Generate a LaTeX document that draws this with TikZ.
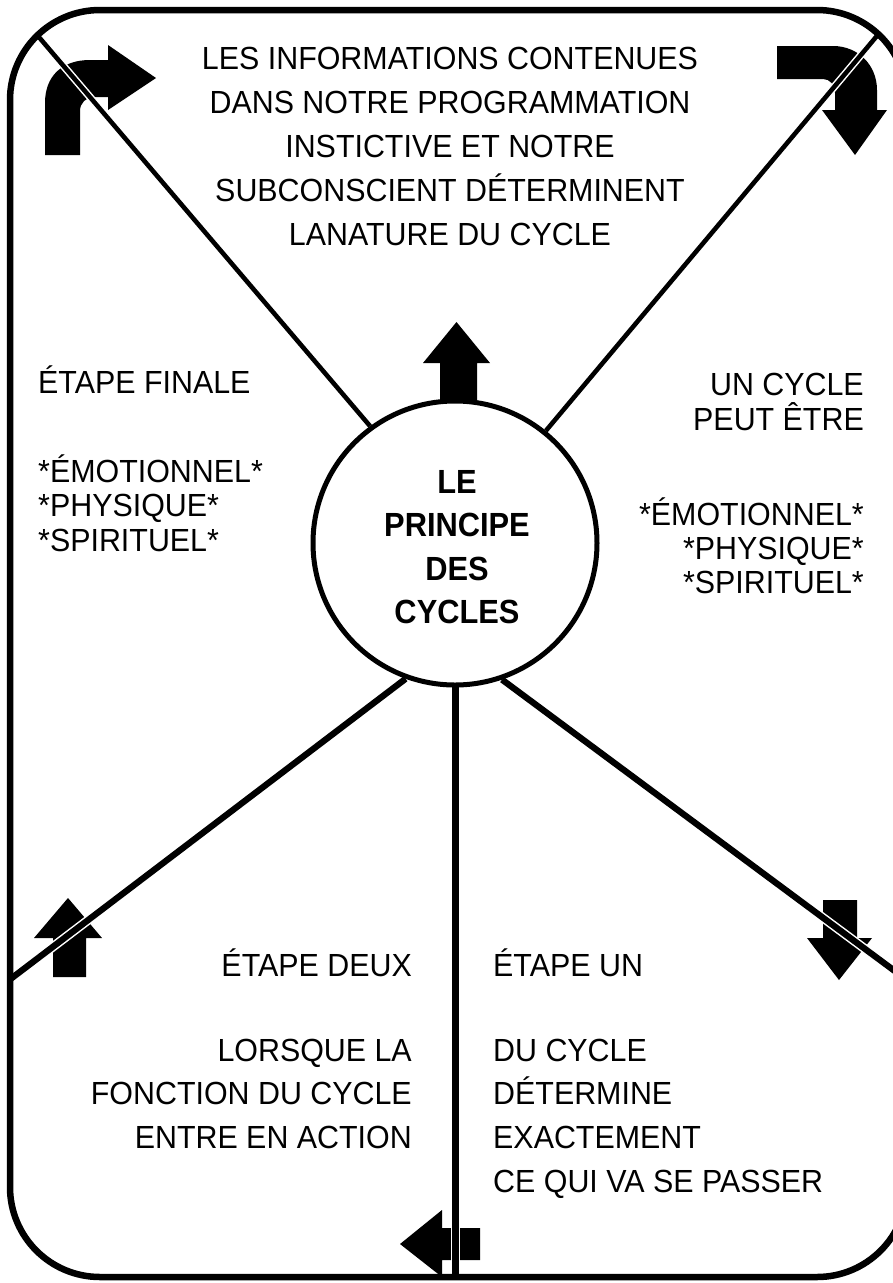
\documentclass[tikz,border=0pt]{standalone}
\usepackage{fontspec}
\setmainfont{Liberation Sans}[FakeStretch=0.95]
\newfontfamily\titlefont{Liberation Sans}[FakeStretch=0.92]
\pgfdeclarelayer{paperlayer}
\pgfdeclarelayer{arrowlayer}
\pgfdeclarelayer{spokelayer}
\pgfsetlayers{paperlayer,arrowlayer,spokelayer,main}
\tikzset{
  txt/.style={inner sep=0pt, font=\fontsize{32}{34}\selectfont},
  ttl/.style={inner sep=0pt, anchor=base, font=\titlefont\bfseries\fontsize{33.5}{40}\selectfont},
  spokeup/.style={line width=4.6pt, preaction={draw=white, line width=7.6pt}},
  spokelow/.style={line width=6.3pt, preaction={draw=white, line width=9.3pt}},
  blk/.style={fill=black},
  hub/.style={circle, draw, line width=5pt, fill=white, minimum size=284pt, inner sep=0pt},
  outerframe/.style={draw, line width=6.5pt, rounded corners=90pt},
}
\begin{document}
\begin{tikzpicture}[x=1pt,y=-1pt]
\useasboundingbox (0,0) rectangle (892,1283);
\begin{pgfonlayer}{paperlayer}
  \fill[white] (0,0) rectangle (892,1283);
\end{pgfonlayer}

% central circle
\node[hub] (c) at (455,543) {};

% far ends of the spokes
\coordinate (tlf) at (-28.3,-41.9);
\coordinate (trf) at (938.3,-37.3);
\coordinate (blf) at (-60,1032.6);
\coordinate (brf) at (960,1019.4);
\coordinate (bf) at (455.5,1300);
\coordinate (cb) at (455.5,650);

% arrows (below the spokes)
\begin{pgfonlayer}{arrowlayer}
  % top-left curved arrow
  \fill[blk] (45,155) -- (45,103) .. controls (45,76) and (62,60) .. (90,60)
     -- (108,60) -- (108,45) -- (156,78) -- (108,110) -- (108,97) -- (94,97)
     .. controls (86,97) and (80,103) .. (80,111) -- (80,155) -- cycle;
  % top-right curved arrow
  \fill[blk] (777,46) -- (833,46) .. controls (858,46) and (877,65) .. (877,90)
     -- (877,110) -- (887,110) -- (855,155) -- (822,110) -- (835,110) -- (835,93)
     .. controls (835,85) and (830,79) .. (823,79) -- (777,79) -- cycle;
  % left up arrow
  \fill[blk] (53,977) -- (53,938) -- (34,938) -- (68,898) -- (102,938) -- (86,938) -- (86,977) -- cycle;
  % right down arrow
  \fill[blk] (823,900) -- (857,900) -- (857,938) -- (872,938) -- (839,980) -- (807,938) -- (823,938) -- cycle;
  % bottom left-pointing arrow
  \fill[blk] (480,1228) -- (442,1228) -- (442,1210) -- (400,1244) -- (442,1277) -- (442,1260) -- (480,1260) -- cycle;
  % central up arrow
  \fill[blk] (440,405) -- (440,363) -- (423,363) -- (456.5,322) -- (490,363) -- (477,363) -- (477,405) -- cycle;
\end{pgfonlayer}

% spokes
\begin{pgfonlayer}{spokelayer}
\begin{scope}
  \clip[rounded corners=90pt] (10,10) rectangle (907,1277);
  \draw[spokeup] (c.126) -- (tlf);
  \draw[spokeup] (c.51) -- (trf);
  \draw[spokelow] (c.250.7) -- (blf);
  \draw[spokelow] (c.289) -- (brf);
  \draw[spokelow] (cb) -- (bf);
\end{scope}
\end{pgfonlayer}

% outer frame
\draw[outerframe] (10,10) rectangle (907,1277);

% title inside circle
\node[ttl] (h1) at (457,493) {LE};
\node[ttl] (h2) at (457,536.5) {PRINCIPE};
\node[ttl] (h3) at (457,580) {DES};
\node[ttl] (h4) at (457,623.5) {CYCLES};

% top text
\node[txt, anchor=base] (t1) at (450,69.5) {LES INFORMATIONS CONTENUES};
\node[txt, anchor=base] (t2) at (450,113.5) {DANS NOTRE PROGRAMMATION};
\node[txt, anchor=base] (t3) at (450,157.5) {INSTICTIVE ET NOTRE};
\node[txt, anchor=base] (t4) at (450,201.5) {SUBCONSCIENT DÉTERMINENT};
\node[txt, anchor=base] (t5) at (450,245.5) {LANATURE DU CYCLE};

% left text
\node[txt, anchor=base west] (l1) at (38,393) {ÉTAPE FINALE};
\node[txt, anchor=base west] (l2) at (38,482) {*ÉMOTIONNEL*};
\node[txt, anchor=base west] (l3) at (38,516.5) {*PHYSIQUE*};
\node[txt, anchor=base west] (l4) at (38,551) {*SPIRITUEL*};

% right text
\node[txt, anchor=base east] (r1) at (864,395) {UN CYCLE};
\node[txt, anchor=base east] (r2) at (864,430) {PEUT ÊTRE};
\node[txt, anchor=base east] (r3) at (864,525) {*ÉMOTIONNEL*};
\node[txt, anchor=base east] (r4) at (864,559) {*PHYSIQUE*};
\node[txt, anchor=base east] (r5) at (864,593) {*SPIRITUEL*};

% bottom-left text
\node[txt, anchor=base east] (bl1) at (412,976) {ÉTAPE DEUX};
\node[txt, anchor=base east] (bl2) at (412,1061) {LORSQUE LA};
\node[txt, anchor=base east] (bl3) at (412,1104.5) {FONCTION DU CYCLE};
\node[txt, anchor=base east] (bl4) at (412,1148) {ENTRE EN ACTION};

% bottom-right text
\node[txt, anchor=base west] (br1) at (493,976) {ÉTAPE UN};
\node[txt, anchor=base west] (br2) at (493,1061) {DU CYCLE};
\node[txt, anchor=base west] (br3) at (493,1104.5) {DÉTERMINE};
\node[txt, anchor=base west] (br4) at (493,1148) {EXACTEMENT};
\node[txt, anchor=base west] (br5) at (493,1192) {CE QUI VA SE PASSER};
\end{tikzpicture}
\end{document}
